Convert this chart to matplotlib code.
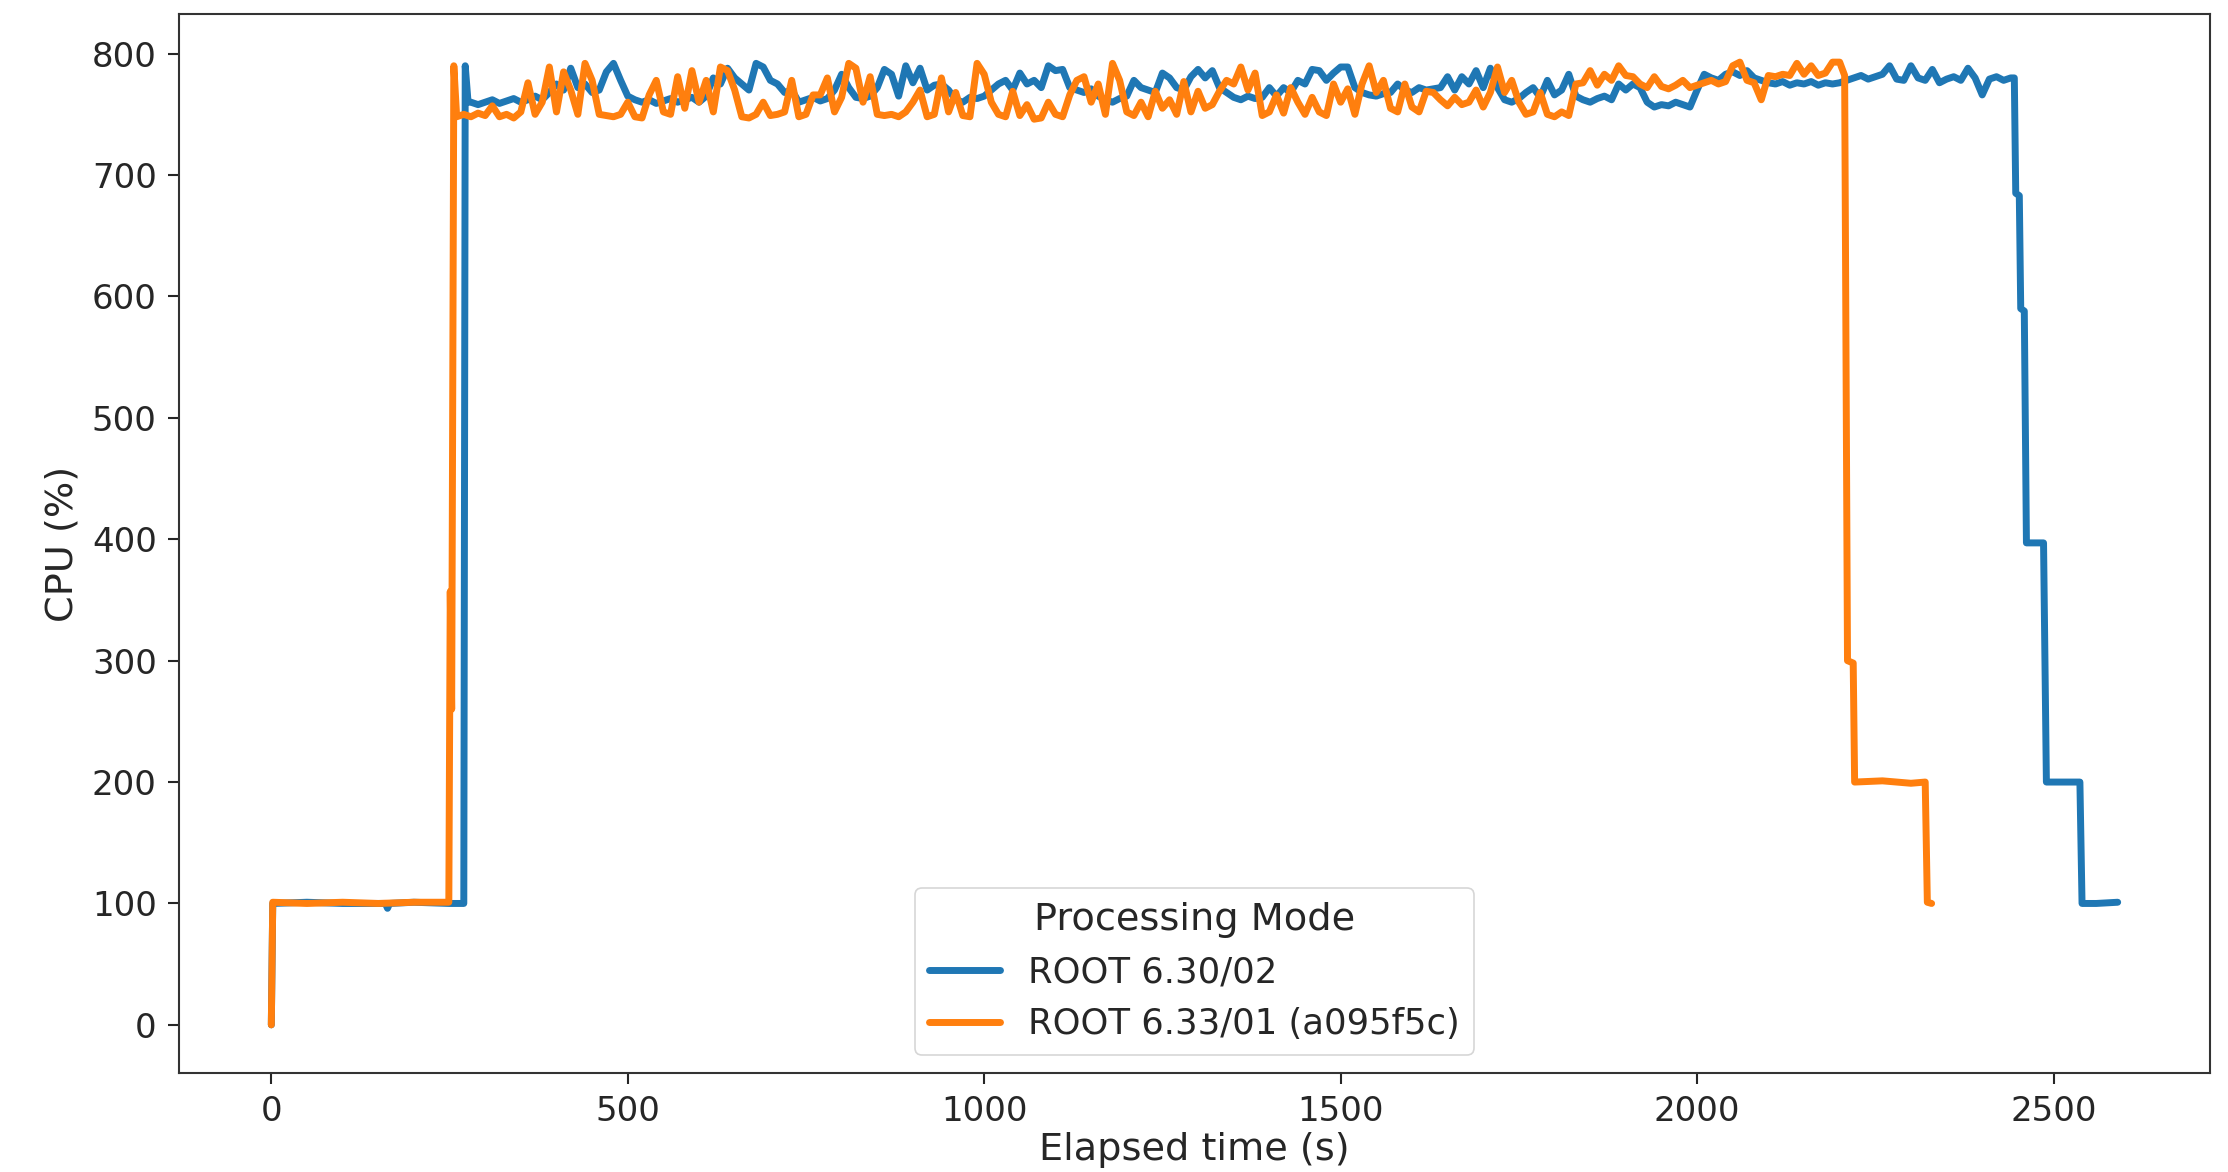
import numpy as np
import matplotlib
matplotlib.use("Agg")
import matplotlib.pyplot as plt

# ---------------- data ----------------
labels = ["ROOT 6.30/02", "ROOT 6.33/01 (a095f5c)"]
legend_title = "Processing Mode"

# ROOT 6.30/02 : start-up ramp
blue_start_t = [0, 2, 50, 100, 160, 163, 166, 200, 250, 270, 272, 276]
blue_start_v = [0, 100, 101, 100, 100, 96, 100, 101, 100, 100, 790, 760]
# plateau, sampled every 10 s from 280 s to 2440 s
blue_plateau_t0 = 280
blue_plateau_dt = 10
blue_plateau_v = [
    760, 758, 760, 762, 759, 761, 763, 760, 762, 765, 762, 768, 775, 770, 788, 772,
    775, 768, 770, 785, 792, 778, 765, 762, 760, 762, 759, 761, 763, 760, 762, 764,
    760, 765, 780, 775, 788, 780, 775, 770, 792, 789, 778, 775, 768, 770, 760, 762,
    764, 761, 763, 770, 783, 772, 764, 763, 765, 772, 787, 783, 765, 790, 776, 788,
    770, 774, 775, 770, 762, 760, 764, 763, 765, 770, 775, 778, 770, 784, 775, 778,
    772, 790, 786, 787, 772, 770, 768, 771, 765, 762, 760, 763, 765, 778, 772, 770,
    768, 784, 780, 772, 770, 781, 787, 780, 786, 772, 768, 764, 762, 765, 763, 764,
    772, 765, 772, 768, 778, 775, 787, 786, 778, 784, 789, 789, 772, 768, 766, 765,
    767, 768, 775, 770, 768, 772, 770, 771, 772, 781, 770, 781, 775, 786, 772, 788,
    772, 762, 760, 763, 768, 772, 764, 778, 766, 770, 783, 765, 762, 760, 763, 765,
    762, 775, 770, 775, 772, 760, 756, 758, 757, 760, 758, 756, 770, 783, 780, 778,
    783, 785, 782, 786, 780, 778, 776, 775, 777, 774, 776, 775, 777, 774, 776, 775,
    776, 778, 780, 782, 779, 781, 783, 790, 779, 778, 790, 780, 778, 787, 776, 779,
    781, 778, 788, 780, 766, 779, 781, 778, 780,
]
# wind-down steps
blue_end_t = [2445, 2447, 2452, 2454, 2459, 2462, 2486, 2490, 2537, 2540, 2560, 2590]
blue_end_v = [780, 685, 683, 590, 588, 397, 397, 200, 200, 100, 100, 101]

# ROOT 6.33/01 (a095f5c) : start-up ramp
orange_start_t = [0, 2, 50, 100, 150, 200, 249, 251, 253, 256, 260]
orange_start_v = [0, 101, 100, 101, 100, 101, 101, 357, 260, 790, 748]
orange_plateau_t0 = 270
orange_plateau_dt = 10
orange_plateau_v = [
    750, 748, 751, 749, 757, 748, 750, 747, 752, 776, 750, 760, 789, 752, 785, 770,
    750, 792, 778, 750, 749, 748, 750, 760, 748, 747, 766, 778, 752, 750, 781, 755,
    786, 760, 778, 752, 789, 786, 770, 748, 747, 750, 760, 749, 750, 752, 778, 748,
    750, 766, 766, 780, 752, 764, 792, 788, 760, 781, 750, 749, 750, 748, 752, 760,
    770, 748, 750, 780, 752, 768, 749, 748, 792, 783, 760, 750, 748, 769, 749, 758,
    746, 747, 760, 750, 748, 766, 778, 781, 760, 775, 750, 792, 778, 752, 749, 760,
    748, 769, 755, 762, 750, 777, 752, 769, 755, 758, 769, 778, 775, 789, 770, 784,
    749, 752, 766, 751, 772, 760, 750, 764, 752, 749, 775, 760, 771, 750, 775, 790,
    768, 778, 755, 752, 775, 756, 752, 769, 768, 762, 757, 764, 758, 760, 770, 756,
    768, 789, 768, 778, 760, 750, 752, 768, 750, 748, 752, 749, 775, 776, 786, 774,
    783, 778, 790, 782, 781, 775, 772, 781, 773, 771, 774, 778, 772, 774, 776, 778,
    775, 777, 790, 793, 778, 776, 762, 782, 781, 783, 782, 792, 783, 790, 782, 784,
    793, 793,
]
orange_end_t = [2207, 2211, 2219, 2221, 2260, 2300, 2320, 2323, 2329]
orange_end_v = [782, 300, 298, 200, 201, 199, 200, 101, 100]


def build(start_t, start_v, t0, dt, plateau_v, end_t, end_v):
    plateau_t = t0 + dt * np.arange(len(plateau_v))
    t = np.concatenate([start_t, plateau_t, end_t])
    v = np.concatenate([start_v, plateau_v, end_v])
    return t, v


blue_t, blue_v = build(blue_start_t, blue_start_v, blue_plateau_t0, blue_plateau_dt,
                       blue_plateau_v, blue_end_t, blue_end_v)
orange_t, orange_v = build(orange_start_t, orange_start_v, orange_plateau_t0,
                           orange_plateau_dt, orange_plateau_v, orange_end_t, orange_end_v)

# ---------------- figure ----------------
dark = "#262626"
plt.rcParams.update({
    "font.family": ["DejaVu Sans"],
    "text.color": dark,
    "axes.labelcolor": dark,
    "xtick.color": dark,
    "ytick.color": dark,
    "axes.edgecolor": "#333333",
})

fig = plt.figure(figsize=(22.28, 11.72), dpi=100)
ax = fig.add_axes([179 / 2228, 1 - 1073 / 1172, (2210 - 179) / 2228, (1073 - 14) / 1172])

lw = 5.0
ax.plot(blue_t, blue_v, color="#1f77b4", lw=lw, label=labels[0],
        solid_joinstyle="round", solid_capstyle="round")
ax.plot(orange_t, orange_v, color="#ff7f0e", lw=lw, label=labels[1],
        solid_joinstyle="round", solid_capstyle="round")

ax.set_xticks([0, 500, 1000, 1500, 2000, 2500])
ax.set_yticks([0, 100, 200, 300, 400, 500, 600, 700, 800])
ax.tick_params(axis="both", labelsize=24.5, length=8, width=1.5, pad=8)
for s in ax.spines.values():
    s.set_linewidth(1.5)

ax.set_xlabel("Elapsed time (s)", fontsize=27.5, labelpad=3)
ax.set_ylabel("CPU (%)", fontsize=27.5, labelpad=8)

leg = ax.legend(title=legend_title, loc="lower center", fontsize=25.5,
                title_fontsize=27.5, frameon=True, handlelength=2.0)
leg.get_frame().set_edgecolor("#cccccc")
leg.get_frame().set_linewidth(1.2)
for line in leg.get_lines():
    line.set_linewidth(lw)

fig.savefig("out.png", dpi=100)
